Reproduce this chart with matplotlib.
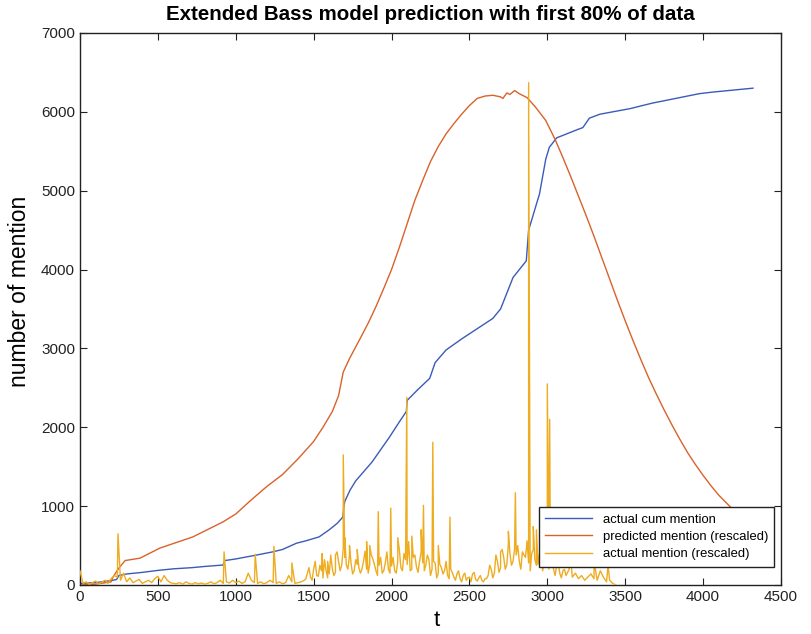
import numpy as np
import matplotlib.pyplot as plt

plt.rcParams['font.family'] = ['Liberation Sans', 'DejaVu Sans']

# actual cumulative mentions (t, value)
cum_t = [0, 100, 200, 235, 250, 300, 400, 500, 600, 720, 800, 918, 930, 1000,
         1134, 1237, 1300, 1390, 1450, 1535, 1600, 1650, 1687, 1695, 1700, 1733,
         1770, 1875, 1985, 2054, 2095, 2100, 2170, 2245, 2280, 2350, 2450, 2550,
         2650, 2700, 2780, 2865, 2880, 2950, 2990, 3013, 3060, 3200, 3228, 3270,
         3338, 3530, 3673, 3975, 4060, 4320]
cum_y = [20, 30, 55, 70, 120, 140, 160, 185, 205, 220, 235, 253, 310, 330,
         380, 420, 450, 530, 560, 610, 700, 780, 860, 1000, 1060, 1200,
         1320, 1560, 1870, 2080, 2200, 2340, 2480, 2620, 2820, 2980, 3120, 3250,
         3380, 3500, 3900, 4110, 4500, 4960, 5400, 5550, 5670, 5780, 5800, 5920,
         5970, 6040, 6110, 6230, 6250, 6300]

# predicted mentions, rescaled (t, value)
pred_t = [0, 100, 200, 212, 250, 290, 385, 513, 725, 918, 1000, 1100, 1200,
          1300, 1400, 1500, 1560, 1620, 1660, 1690, 1730, 1800, 1850, 1900,
          1950, 2000, 2050, 2100, 2150, 2200, 2250, 2300, 2350, 2400, 2450,
          2500, 2550, 2600, 2650, 2700, 2715, 2740, 2760, 2790, 2820, 2870,
          2920, 2990, 3050, 3100, 3150, 3200, 3250, 3300, 3350, 3400, 3450,
          3500, 3550, 3600, 3650, 3700, 3750, 3800, 3850, 3900, 3950, 4000,
          4050, 4100, 4150, 4200, 4250, 4300]
pred_y = [0, 10, 40, 100, 215, 310, 340, 468, 610, 800, 900, 1080, 1250,
          1400, 1600, 1820, 2000, 2200, 2400, 2700, 2870, 3130, 3320, 3530,
          3760, 4000, 4280, 4580, 4880, 5130, 5370, 5560, 5720, 5850, 5970,
          6080, 6170, 6200, 6210, 6190, 6170, 6240, 6220, 6270, 6230, 6180,
          6070, 5890, 5650, 5420, 5180, 4930, 4680, 4420, 4150, 3880, 3610,
          3350, 3100, 2860, 2630, 2420, 2220, 2030, 1850, 1680, 1530, 1390,
          1260, 1140, 1040, 940, 850, 780]

# actual mentions, rescaled: background every 20 time steps
noise_y = [180, 20, 40, 10, 30, 50, 15, 35, 60, 20, 80,
           120, 100, 60, 150, 40, 90, 30, 50, 70, 20,
           40, 60, 30, 80, 110, 40, 120, 60, 30, 20,
           15, 30, 10, 40, 20, 10, 30, 15, 25, 10,
           20, 40, 15, 30, 60, 20, 40, 25, 60, 30,
           50, 20, 40, 150, 60, 30, 20, 40, 15, 30,
           60, 30, 20, 40, 15, 30, 120, 40, 20, 30,
           40, 60, 150, 100, 200, 120, 250, 90, 180, 140,
           200, 160, 300, 250, 350, 200, 280, 180, 260, 150,
           300, 200, 260, 330, 180, 250, 150, 280, 200, 240,
           180, 300, 220, 400, 260, 180, 350, 230, 300, 280,
           250, 320, 200, 280, 150, 220, 180, 120, 200, 100,
           140, 80, 120, 60, 100, 140, 70, 90, 60, 80,
           120, 200, 150, 300, 220, 350, 260, 400, 300, 380,
           300, 420, 350, 280, 400, 320, 260, 350, 300, 250,
           300, 200, 250, 150, 180, 120, 200, 100, 150, 80,
           120, 60, 100, 140, 80, 60, 180, 100, 40, 60, 20, 0]
noise_t = list(20 * np.arange(len(noise_y)))

# extra background in the busy stretch, t = 1450, 1470, ... 3110
busy_y = [80, 220, 60, 300, 110, 180, 320, 90,
          380, 120, 420, 180, 460, 250, 380, 140, 320, 220,
          200, 430, 150, 380, 260, 120, 350, 180, 420, 150,
          350, 150, 450, 180, 320, 550, 200, 380, 160, 420,
          180, 380, 120, 300, 90, 260, 140, 300, 80, 160,
          60, 180, 40, 150, 90, 40, 160, 50, 120, 40,
          80, 250, 90, 380, 160, 450, 200, 520, 250, 460,
          500, 200, 380, 560, 180, 450, 250, 400, 180, 380,
          200, 350, 120, 280, 90, 200]
busy_t = list(1450 + 20 * np.arange(len(busy_y)))

# actual mentions, rescaled: the spikes
spike_t = [244, 925, 1125, 1245, 1360, 1555, 1590, 1640, 1690, 1700, 1730,
           1780, 1840, 1860, 1915, 1995, 2040, 2098, 2130, 2190, 2205, 2265,
           2300, 2375, 2700, 2750, 2795, 2880, 2910, 2930, 3000, 3015, 3060,
           3150, 3300, 3390]
spike_y = [650, 420, 390, 490, 280, 400, 300, 380, 1650, 600, 500,
           450, 550, 500, 930, 975, 600, 2380, 620, 700, 1010, 1810,
           500, 860, 420, 680, 1170, 6370, 740, 700, 2550, 2100, 500,
           350, 300, 250]

act_t = np.array(noise_t + busy_t + spike_t, dtype=float)
act_y = np.array(noise_y + busy_y + spike_y, dtype=float)
order = np.argsort(act_t, kind='stable')
act_t, act_y = act_t[order], act_y[order]

blue = "#3A5BB8"
orange = "#D9622A"
yellow = "#EEAC20"

fig = plt.figure(figsize=(8.11, 6.34), dpi=100)
ax = fig.add_axes([0.0986, 0.0773, 0.8644, 0.8707])

l_act, = ax.plot(act_t, act_y, color=yellow, lw=1.0, zorder=3)
l_cum, = ax.plot(cum_t, cum_y, color=blue, lw=1.0, zorder=2)
l_pred, = ax.plot(pred_t, pred_y, color=orange, lw=1.0, zorder=2)

ax.set_xlim(0, 4500)
ax.set_ylim(0, 7000)
ax.set_xticks(np.arange(0, 4501, 500))
ax.set_yticks(np.arange(0, 7001, 1000))
ax.tick_params(direction='in', top=True, right=True, length=5, labelsize=11,
               colors='#222222')
for s in ax.spines.values():
    s.set_color('#222222')
    s.set_linewidth(1.0)

ax.set_title('Extended Bass model prediction with first 80% of data',
             fontsize=14.8, fontweight='bold', pad=9)
ax.set_xlabel('t', fontsize=16)
ax.set_ylabel('number of mention', fontsize=16.5)
ax.xaxis.set_label_coords(0.509, -0.045)
ax.yaxis.set_label_coords(-0.07, 0.531)

leg = ax.legend([l_cum, l_pred, l_act],
                ['actual cum mention', 'predicted mention (rescaled)',
                 'actual mention (rescaled)'],
                loc='lower right', bbox_to_anchor=(1.0, 0.021), fontsize=9.4,
                handlelength=3.6, fancybox=False, framealpha=1,
                edgecolor='#222222', borderpad=0.5, labelspacing=0.4)
leg.get_frame().set_linewidth(1.0)
leg.set_zorder(5)

plt.savefig('out.png', dpi=100)
